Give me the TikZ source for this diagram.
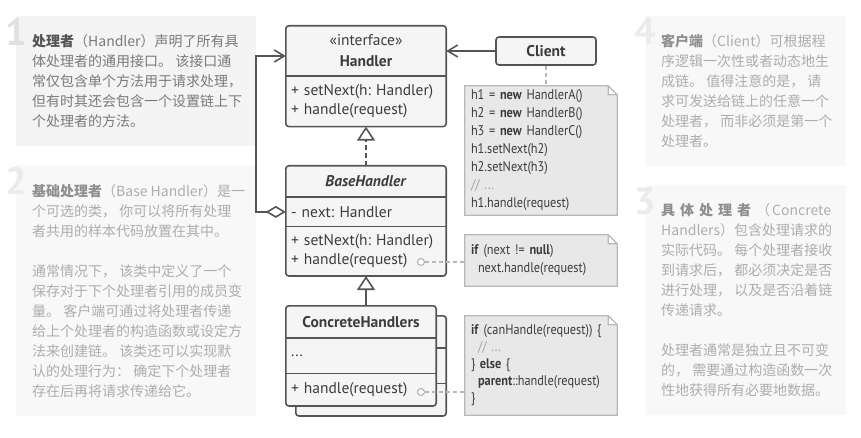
\documentclass[tikz,border=0pt]{standalone}
\usepackage{fontspec}
\setmainfont{PT Sans}
\newfontfamily\cjk{Noto Sans CJK SC}
\newfontfamily\notefont[FakeStretch=0.88]{PT Sans}
\usetikzlibrary{positioning,backgrounds,arrows.meta}
\frenchspacing
\definecolor{ink}{HTML}{3C3C3C}
\definecolor{edge}{HTML}{555555}
\definecolor{boxfill}{HTML}{F5F5F5}
\definecolor{notefill}{HTML}{E8E8E8}
\definecolor{notedraw}{HTML}{B8B8B8}
\definecolor{cmt}{HTML}{A0A0A0}
\definecolor{panelon}{HTML}{F4F4F4}
\definecolor{paneloff}{HTML}{F8F8F8}
\definecolor{texton}{HTML}{7A7A7A}
\definecolor{textoff}{HTML}{ADADAD}
\definecolor{titleon}{HTML}{555555}
\definecolor{titleoff}{HTML}{8F8F8F}
\definecolor{numon}{HTML}{E0E0E0}
\definecolor{numoff}{HTML}{EBEBEB}

\begin{document}
\begin{tikzpicture}
[x=1pt, y=-1pt,
 part/.style={text width=150pt, inner xsep=5pt, inner ysep=0pt, align=left, text=ink, font=\fontsize{15.5}{19}\selectfont},
 head/.style={part, align=center},
 outline/.style={draw=edge, line width=1.6pt, fill=boxfill, rounded corners=3pt},
 divider/.style={draw=edge, line width=1.6pt},
 conn/.style={draw=edge, line width=1.6pt},
 note/.style={text width=140pt, inner xsep=6pt, inner ysep=0pt, align=left, text=ink, font=\notefont\fontsize{14}{18}\selectfont},
 notebg/.style={draw=notedraw, fill=notefill, line width=1.2pt},
 dots/.style={draw=notedraw, line width=1.2pt, dash pattern=on 4pt off 3pt},
 port/.style={circle, draw=notedraw, fill=white, line width=1.2pt, minimum size=7pt, inner sep=0pt},
 panel/.style={fill=#1, anchor=north west, inner sep=0pt},
 ptext/.style={anchor=west, inner sep=0pt, align=left, font=\cjk\fontsize{14}{20}\selectfont},
 num/.style={font=\fontsize{38}{38}\selectfont\bfseries, inner sep=0pt}
]
\useasboundingbox (0,0) rectangle (861,438);

\node[panel=panelon, minimum width=240pt, minimum height=130pt] (p1) at (16,16) {};
\node[panel=paneloff, minimum width=240pt, minimum height=251pt] (p2) at (16,165) {};
\node[panel=paneloff, minimum width=200pt, minimum height=150pt] (p4) at (646,16) {};
\node[panel=paneloff, minimum width=200pt, minimum height=230pt] (p3) at (646,185) {};
\node[num, text=numon] (d1) at (16,31.5) {1};
\node[num, text=numoff] (d2) at (16,181) {2};
\node[num, text=numoff] (d4) at (645.5,31.5) {4};
\node[num, text=numoff] (d3) at (645.5,201.5) {3};

\node[ptext, text=texton] (t1) at ([xshift=16pt]p1.west)
  {\textbf{\color{titleon}处理者}（Handler）声明了所有具\\体处理者的通用接口。 该接口通\\常仅包含单个方法用于请求处理，\\但有时其还会包含一个设置链上下\\个处理者的方法。};
\node[ptext, text=textoff] (t2) at ([xshift=16pt]p2.west)
  {\textbf{\color{titleoff}基础处理者}（Base Handler）是一\\个可选的类， 你可以将所有处理\\者共用的样本代码放置在其中。\\[20pt]通常情况下， 该类中定义了一个\\保存对于下个处理者引用的成员变\\量。 客户端可通过将处理者传递\\给上个处理者的构造函数或设定方\\法来创建链。 该类还可以实现默\\认的处理行为： 确定下个处理者\\存在后再将请求传递给它。};
\node[ptext, text=textoff] (t4) at ([xshift=15pt]p4.west)
  {\textbf{\color{titleoff}客户端}（Client）可根据程\\序逻辑一次性或者动态地生\\成链。 值得注意的是， 请\\求可发送给链上的任意一个\\处理者， 而非必须是第一个\\处理者。};
\node[ptext, text=textoff] (t3) at ([xshift=15pt]p3.west)
  {\textbf{\color{titleoff}具\hspace{5pt}体\hspace{5pt}处\hspace{5pt}理\hspace{5pt}者}\hspace{5pt}（\hspace{2pt}Concrete\\Handlers）包含处理请求的\\实际代码。 每个处理者接收\\到请求后， 都必须决定是否\\进行处理， 以及是否沿着链\\传递请求。\\[20pt]处理者通常是独立且不可变\\的， 需要通过构造函数一次\\性地获得所有必要地数据。};

\node[head, minimum height=50pt] (hh) at (366,51) {«interface»\\[2pt]\textbf{Handler}};
\node[part, minimum height=50pt, below=0pt of hh] (hm) {+ setNext(h: Handler)\\+ handle(request)};

\node[head, minimum height=31pt] (bh) at (366,181.5) {\textbf{\textit{BaseHandler}}};
\node[part, minimum height=29pt, below=0pt of bh] (bf) {- next: Handler};
\node[part, minimum height=49pt, below=0pt of bf] (bm) {+ setNext(h: Handler)\\+ handle(request)};

\node[head, text width=140pt, minimum height=32pt] (ch) at (361,322) {\textbf{ConcreteHandlers}};
\node[part, text width=140pt, minimum height=35pt, below=0pt of ch] (cf) {...};
\node[part, text width=140pt, minimum height=32pt, below=0pt of cf] (cm) {+ handle(request)};

\node[draw=edge, fill=boxfill, line width=1.6pt, rounded corners=3pt, minimum width=100pt, minimum height=28pt,
  text=ink, font=\fontsize{15.5}{17}\selectfont\bfseries] (cl) at (546,51) {Client};

\node[note, minimum height=129pt] (n1) at (541,150.5)
  {h1 = \textbf{new} HandlerA()\\h2 = \textbf{new} HandlerB()\\h3 = \textbf{new} HandlerC()\\h1.setNext(h2)\\h2.setNext(h3)\\\textcolor{cmt}{// ...}\\h1.handle(request)};
\node[note, minimum height=51pt] (n2) at (541,260.5)
  {\textbf{if} (next != \textbf{null})\\\hspace*{7pt}next.handle(request)};
\node[note, minimum height=99pt, font=\notefont\fontsize{14}{17}\selectfont] (n3) at (541,365.5)
  {\textbf{if} (canHandle(request)) \{\\\hspace*{7pt}\textcolor{cmt}{// ...}\\\} \textbf{else} \{\\\hspace*{7pt}\textbf{parent}::handle(request)\\\}};

\begin{scope}[on background layer]
\draw[outline] (hh.north west) rectangle (hm.south east);
\draw[outline] (bh.north west) rectangle (bm.south east);
\draw[outline] ([shift={(10,10)}]ch.north west) rectangle ([shift={(10,10)}]cm.south east);
\draw[divider] ([shift={(10,10)}]ch.south west) -- ([shift={(10,10)}]ch.south east)
  ([shift={(10,10)}]cf.south west) -- ([shift={(10,10)}]cf.south east);
\draw[outline] (ch.north west) rectangle (cm.south east);
\foreach \n in {n1,n2,n3}
  \draw[notebg] (\n.north west) -- ([xshift=-9pt]\n.north east) -- ([yshift=-9pt]\n.north east)
    -- (\n.south east) -- (\n.south west) -- cycle
    ([xshift=-9pt]\n.north east) |- ([yshift=-9pt]\n.north east);
\end{scope}

\draw[divider] (hh.south west) -- (hh.south east);
\draw[divider] (bh.south west) -- (bh.south east);
\draw[divider] (bf.south west) -- (bf.south east);
\draw[divider] (ch.south west) -- (ch.south east);
\draw[divider] (cf.south west) -- (cf.south east);

\draw[conn, dash pattern=on 5pt off 3pt, -{Triangle[open, length=14pt, width=18pt]}] (bh.north) -- (hm.south);
\draw[conn, -{Triangle[open, length=14pt, width=18pt]}] (bm.south |- ch.north) -- (bm.south);
\draw[conn, -{Straight Barb[length=10pt, width=12pt]}] (cl) -- (hh);
\draw[conn, {Diamond[open, length=20pt, width=12pt]}-{Straight Barb[length=10pt, width=12pt]}]
  (bf.west) -- ++(-30,0) |- ([yshift=-5pt]hh.west);

\draw[dots] (cl.south) -- (cl.south |- n1.north);
\node[port] (c2) at (421,262) {};
\node[port] (c3) at (421,392) {};
\draw[dots] (c2) -- (n2.west |- c2);
\draw[dots] (c3) -- (n3.west |- c3);
\end{tikzpicture}
\end{document}
